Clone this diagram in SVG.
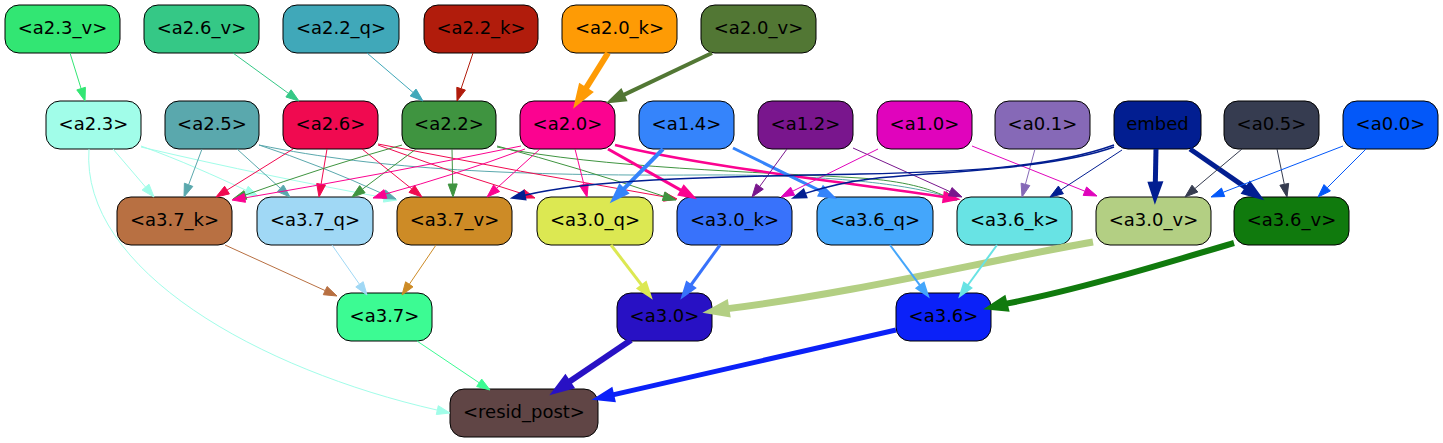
<svg xmlns="http://www.w3.org/2000/svg" width="1443" height="443" viewBox="0 0 1443 443">
<style>
.n rect{stroke:#000;stroke-width:1}
.n text{font-family:"DejaVu Sans","Liberation Sans",sans-serif;font-size:18px;text-anchor:middle;fill:#000}
#edges path{fill:none}
#edges polygon{stroke-linejoin:miter}
</style>
<rect width="1443" height="443" fill="#fff"/>
<g id="nodes">
<g id="a2_3_v" class="n"><rect x="5" y="5" width="115" height="48" rx="14" fill="#32e673"/><text x="62.5" y="34">&lt;a2.3_v&gt;</text></g>
<g id="a2_6_v" class="n"><rect x="144" y="5" width="115" height="48" rx="14" fill="#35c886"/><text x="201.5" y="34">&lt;a2.6_v&gt;</text></g>
<g id="a2_2_q" class="n"><rect x="283" y="5" width="116" height="48" rx="14" fill="#40a8b9"/><text x="341" y="34">&lt;a2.2_q&gt;</text></g>
<g id="a2_2_k" class="n"><rect x="424" y="5" width="114" height="48" rx="14" fill="#b11c0c"/><text x="481" y="34">&lt;a2.2_k&gt;</text></g>
<g id="a2_0_k" class="n"><rect x="562" y="5" width="115" height="48" rx="14" fill="#fe9b05"/><text x="619.5" y="34">&lt;a2.0_k&gt;</text></g>
<g id="a2_0_v" class="n"><rect x="701" y="5" width="115" height="48" rx="14" fill="#527734"/><text x="758.5" y="34">&lt;a2.0_v&gt;</text></g>

<g id="a2_3" class="n"><rect x="46" y="101" width="95" height="48" rx="14" fill="#a1fde9"/><text x="93.5" y="130">&lt;a2.3&gt;</text></g>
<g id="a2_5" class="n"><rect x="165" y="101" width="94" height="48" rx="14" fill="#5aa8ad"/><text x="212" y="130">&lt;a2.5&gt;</text></g>
<g id="a2_6" class="n"><rect x="283" y="101" width="95" height="48" rx="14" fill="#f00a50"/><text x="330.5" y="130">&lt;a2.6&gt;</text></g>
<g id="a2_2" class="n"><rect x="402" y="101" width="94" height="48" rx="14" fill="#3f9440"/><text x="449" y="130">&lt;a2.2&gt;</text></g>
<g id="a2_0" class="n"><rect x="520" y="101" width="95" height="48" rx="14" fill="#fb0390"/><text x="567.5" y="130">&lt;a2.0&gt;</text></g>
<g id="a1_4" class="n"><rect x="639" y="101" width="95" height="48" rx="14" fill="#3584fb"/><text x="686.5" y="130">&lt;a1.4&gt;</text></g>
<g id="a1_2" class="n"><rect x="758" y="101" width="95" height="48" rx="14" fill="#79168d"/><text x="805.5" y="130">&lt;a1.2&gt;</text></g>
<g id="a1_0" class="n"><rect x="877" y="101" width="95" height="48" rx="14" fill="#e004bc"/><text x="924.5" y="130">&lt;a1.0&gt;</text></g>
<g id="a0_1" class="n"><rect x="995" y="101" width="95" height="48" rx="14" fill="#8669b7"/><text x="1042.5" y="130">&lt;a0.1&gt;</text></g>
<g id="embed" class="n"><rect x="1114" y="101" width="87" height="48" rx="14" fill="#021e91"/><text x="1157.5" y="130">embed</text></g>
<g id="a0_5" class="n"><rect x="1224" y="101" width="95" height="48" rx="14" fill="#363c50"/><text x="1271.5" y="130">&lt;a0.5&gt;</text></g>
<g id="a0_0" class="n"><rect x="1343" y="101" width="95" height="48" rx="14" fill="#0358f9"/><text x="1390.5" y="130">&lt;a0.0&gt;</text></g>

<g id="a3_7_k" class="n"><rect x="117" y="197" width="115" height="48" rx="14" fill="#b87042"/><text x="174.5" y="226">&lt;a3.7_k&gt;</text></g>
<g id="a3_7_q" class="n"><rect x="257" y="197" width="116" height="48" rx="14" fill="#a0d8f5"/><text x="315" y="226">&lt;a3.7_q&gt;</text></g>
<g id="a3_7_v" class="n"><rect x="397" y="197" width="115" height="48" rx="14" fill="#cd8b26"/><text x="454.5" y="226">&lt;a3.7_v&gt;</text></g>
<g id="a3_0_q" class="n"><rect x="537" y="197" width="116" height="48" rx="14" fill="#dce852"/><text x="595" y="226">&lt;a3.0_q&gt;</text></g>
<g id="a3_0_k" class="n"><rect x="677" y="197" width="115" height="48" rx="14" fill="#3872fb"/><text x="734.5" y="226">&lt;a3.0_k&gt;</text></g>
<g id="a3_6_q" class="n"><rect x="817" y="197" width="116" height="48" rx="14" fill="#44a6fb"/><text x="875" y="226">&lt;a3.6_q&gt;</text></g>
<g id="a3_6_k" class="n"><rect x="957" y="197" width="115" height="48" rx="14" fill="#68e3e4"/><text x="1014.5" y="226">&lt;a3.6_k&gt;</text></g>
<g id="a3_0_v" class="n"><rect x="1096" y="197" width="115" height="48" rx="14" fill="#b3cf83"/><text x="1153.5" y="226">&lt;a3.0_v&gt;</text></g>
<g id="a3_6_v" class="n"><rect x="1234" y="197" width="115" height="48" rx="14" fill="#107a0d"/><text x="1291.5" y="226">&lt;a3.6_v&gt;</text></g>

<g id="a3_7" class="n"><rect x="337" y="293" width="95" height="48" rx="14" fill="#3cfb93"/><text x="384.5" y="322">&lt;a3.7&gt;</text></g>
<g id="a3_0" class="n"><rect x="617" y="293" width="95" height="48" rx="14" fill="#2811c4"/><text x="664.5" y="322">&lt;a3.0&gt;</text></g>
<g id="a3_6" class="n"><rect x="896" y="293" width="95" height="48" rx="14" fill="#0b21f8"/><text x="943.5" y="322">&lt;a3.6&gt;</text></g>

<g id="resid_post" class="n"><rect x="450" y="389" width="148" height="48" rx="14" fill="#604545"/><text x="524" y="418">&lt;resid_post&gt;</text></g>
</g>

<g id="edges">
<!-- row1 to row2 -->
<g stroke="#32e673" fill="#32e673" stroke-width="1"><path d="M70,53 L81.1,88.6"/><polygon points="85,101 76.8,89.9 85.4,87.3"/></g>
<g stroke="#35c886" fill="#35c886" stroke-width="1"><path d="M233,53 L288.5,93.4"/><polygon points="299,101 285.9,97.0 291.1,89.8"/></g>
<g stroke="#40a8b9" fill="#40a8b9" stroke-width="1"><path d="M367,53 L413.1,92.5"/><polygon points="423,101 410.2,95.9 416.0,89.1"/></g>
<g stroke="#b11c0c" fill="#b11c0c" stroke-width="1"><path d="M473,53 L461.1,88.7"/><polygon points="457,101 456.8,87.3 465.4,90.1"/></g>
<g stroke="#fe9b05" fill="#fe9b05" stroke-width="6"><path d="M608,53 L584.9,90"/><polygon points="578,101 581.1,87.6 588.7,92.4"/></g>
<g stroke="#527734" fill="#527734" stroke-width="4"><path d="M712,53 L622.7,95.4"/><polygon points="611,101 620.8,91.3 624.6,99.5"/></g>

<!-- a2.3 -->
<g stroke="#a1fde9" fill="#a1fde9" stroke-width="1">
<path d="M113,149 L145.6,187.1"/><polygon points="154,197 142.1,190.0 149.0,184.2"/>
<path d="M141,146 C180,160 215,176 246.3,190.4"/><polygon points="258,196 244.3,194.5 248.2,186.3"/>
<path d="M141,147 C230,168 310,184 384.2,197.7"/><polygon points="397,200 383.4,202.1 385.0,193.3"/>
<path d="M89,149 C80,270 260,370 437.3,410.1"/><polygon points="450,413 436.3,414.5 438.3,405.7"/>
</g>
<!-- a2.5 -->
<g stroke="#5aa8ad" fill="#5aa8ad" stroke-width="1">
<path d="M202,149 L188.6,184.8"/><polygon points="184,197 184.4,183.2 192.8,186.4"/>
<path d="M237,149 L280.4,188.3"/><polygon points="290,197 277.4,191.6 283.4,185.0"/>
<path d="M259,145 Q320,165 383.9,194.3"/><polygon points="396,199 382.3,198.5 385.5,190.1"/>
<path d="M259,145 C380,170 520,176 700,175 C830,174 910,185 944.6,196"/><polygon points="957,200 943.2,200.3 946.0,191.7"/>
</g>
<!-- a2.6 -->
<g stroke="#f00a50" fill="#f00a50" stroke-width="1">
<path d="M293,149 L227,190.1"/><polygon points="216,197 224.6,186.3 229.4,193.9"/>
<path d="M327,149 L321.1,184.2"/><polygon points="319,197 316.7,183.5 325.5,184.9"/>
<path d="M362,149 L411.8,188.9"/><polygon points="422,197 409.0,192.4 414.6,185.4"/>
<path d="M378,145 Q450,172 522.7,193.8"/><polygon points="535,198 521.3,198.1 524.1,189.5"/>
<path d="M378,144 Q520,172 664.2,196.8"/><polygon points="677,199 663.4,201.2 665.0,192.4"/>
</g>
<!-- a2.2 -->
<g stroke="#3f9440" fill="#3f9440" stroke-width="1">
<path d="M402,145 Q320,168 245.4,195"/><polygon points="233,199 244.0,190.7 246.8,199.3"/>
<path d="M416,149 L362.4,189.2"/><polygon points="352,197 359.7,185.6 365.1,192.8"/>
<path d="M452,149 L452.7,184"/><polygon points="453,197 448.2,184.1 457.2,183.9"/>
<path d="M497,146 Q580,168 663.6,196.2"/><polygon points="676,200 662.3,200.5 664.9,191.9"/>
<path d="M497,147 C600,168 760,172 860,178 C905,181 930,189 944.6,196"/><polygon points="957,200 943.2,200.3 946.0,191.7"/>
</g>
<!-- a2.0 -->
<g stroke="#fb0390" fill="#fb0390" stroke-width="1">
<path d="M521,146 Q380,175 244.8,197.9"/><polygon points="232,200 244.1,193.5 245.5,202.3"/>
<path d="M525,149 Q455,175 385.4,194"/><polygon points="373,198 384.0,189.7 386.8,198.3"/>
<path d="M540,149 L496.6,188.3"/><polygon points="487,197 493.6,185.0 499.6,191.6"/>
<path d="M575,149 L583.9,184.4"/><polygon points="587,197 579.5,185.5 588.3,183.3"/>
</g>
<g stroke="#fb0390" fill="#fb0390" stroke-width="3"><path d="M608,149 L681.7,190.6"/><polygon points="693,197 679.5,194.5 683.9,186.7"/></g>
<g stroke="#fb0390" fill="#fb0390" stroke-width="2.5"><path d="M615,145 C700,166 850,183 944.1,197.1"/><polygon points="957,199 943.4,201.6 944.8,192.7"/></g>
<!-- a1.4 -->
<g stroke="#3584fb" fill="#3584fb" stroke-width="4"><path d="M663,149 L623.1,189.7"/><polygon points="614,199 619.9,186.6 626.3,192.9"/></g>
<g stroke="#3584fb" fill="#3584fb" stroke-width="3"><path d="M733,148 L821.3,191.3"/><polygon points="833,197 819.3,195.3 823.3,187.3"/></g>
<!-- a1.2 -->
<g stroke="#79168d" fill="#79168d" stroke-width="1">
<path d="M787,149 L759.7,186.5"/><polygon points="752,197 756.1,183.9 763.3,189.2"/>
<path d="M853,148 L950.1,191.7"/><polygon points="962,197 948.3,195.8 952.0,187.6"/>
</g>
<!-- a1.0 -->
<g stroke="#e004bc" fill="#e004bc" stroke-width="1">
<path d="M878,149 L792.6,191.2"/><polygon points="781,197 790.6,187.2 794.6,195.2"/>
<path d="M972,146 L1084.9,191.2"/><polygon points="1097,196 1083.2,195.4 1086.6,187.0"/>
</g>
<!-- a0.1 -->
<g stroke="#8669b7" fill="#8669b7" stroke-width="1"><path d="M1035,149 L1025.4,184.4"/><polygon points="1022,197 1021.1,183.2 1029.8,185.6"/></g>
<!-- embed -->
<g stroke="#021e91" fill="#021e91" stroke-width="1.5">
<path d="M1114,145 C1050,168 960,172 860,174 C720,177 600,178 524.7,195.2"/><polygon points="512,198 523.7,190.8 525.7,199.6"/>
<path d="M1114,147 C1050,170 930,172 870,179 C845,182 825,187 805.2,193.4"/><polygon points="793,198 803.6,189.2 806.8,197.6"/>
</g>
<g stroke="#021e91" fill="#021e91" stroke-width="1"><path d="M1122,150 L1060.9,189.9"/><polygon points="1050,197 1058.4,186.1 1063.4,193.7"/></g>
<g stroke="#021e91" fill="#021e91" stroke-width="5">
<path d="M1156,149 L1155.3,184"/><polygon points="1155,197 1150.8,184.1 1159.8,183.9"/>
<path d="M1190,149 L1247.3,188.6"/><polygon points="1258,196 1244.7,192.3 1249.9,184.9"/>
</g>
<!-- a0.5 -->
<g stroke="#363c50" fill="#363c50" stroke-width="1">
<path d="M1242,149 L1194.9,188.6"/><polygon points="1185,197 1192.0,185.2 1197.8,192.0"/>
<path d="M1277,149 L1284.3,184.3"/><polygon points="1287,197 1279.9,185.2 1288.7,183.4"/>
</g>
<!-- a0.0 -->
<g stroke="#0358f9" fill="#0358f9" stroke-width="1">
<path d="M1343,146 L1223.1,192.3"/><polygon points="1211,197 1221.5,188.1 1224.7,196.5"/>
<path d="M1366,149 L1327.2,187.8"/><polygon points="1318,197 1324.0,184.6 1330.4,191.0"/>
</g>
<!-- row3 to row4 -->
<g stroke="#b87042" fill="#b87042" stroke-width="1"><path d="M225,245 L325.2,290.6"/><polygon points="337,296 323.3,294.7 327.1,286.5"/></g>
<g stroke="#a0d8f5" fill="#a0d8f5" stroke-width="1"><path d="M332,245 L359.5,284.3"/><polygon points="367,295 355.8,286.9 363.2,281.7"/></g>
<g stroke="#cd8b26" fill="#cd8b26" stroke-width="1"><path d="M436,245 L409.3,284.3"/><polygon points="402,295 405.6,281.8 413.0,286.8"/></g>
<g stroke="#dce852" fill="#dce852" stroke-width="3"><path d="M611,245 L642.1,285.7"/><polygon points="650,296 638.5,288.4 645.7,283.0"/></g>
<g stroke="#3872fb" fill="#3872fb" stroke-width="3"><path d="M720,245 L690.6,285.5"/><polygon points="683,296 687.0,282.9 694.2,288.1"/></g>
<g stroke="#b3cf83" fill="#b3cf83" stroke-width="7"><path d="M1093,242 C980,262 860,292 725.8,308.9"/><polygon points="713,311 725.1,304.5 726.5,313.3"/></g>
<g stroke="#44a6fb" fill="#44a6fb" stroke-width="2"><path d="M890,245 L920.2,285.6"/><polygon points="928,296 916.6,288.3 923.8,282.9"/></g>
<g stroke="#68e3e4" fill="#68e3e4" stroke-width="2"><path d="M997,245 L967.6,285.5"/><polygon points="960,296 964.0,282.9 971.2,288.1"/></g>
<g stroke="#107a0d" fill="#107a0d" stroke-width="6"><path d="M1234,243 C1160,265 1070,292 1004.6,303.9"/><polygon points="992,307 1003.5,299.5 1005.7,308.3"/></g>
<!-- row4 to resid_post -->
<g stroke="#3cfb93" fill="#3cfb93" stroke-width="1"><path d="M417,341 L479.2,382.8"/><polygon points="490,390 476.7,386.5 481.7,379.1"/></g>
<g stroke="#2811c4" fill="#2811c4" stroke-width="6"><path d="M631,340 L567.8,382.7"/><polygon points="557,390 565.3,379.0 570.3,386.4"/></g>
<g stroke="#0b21f8" fill="#0b21f8" stroke-width="5"><path d="M896,330 L611.7,395.1"/><polygon points="599,398 610.7,390.7 612.7,399.5"/></g>
</g>
</svg>
